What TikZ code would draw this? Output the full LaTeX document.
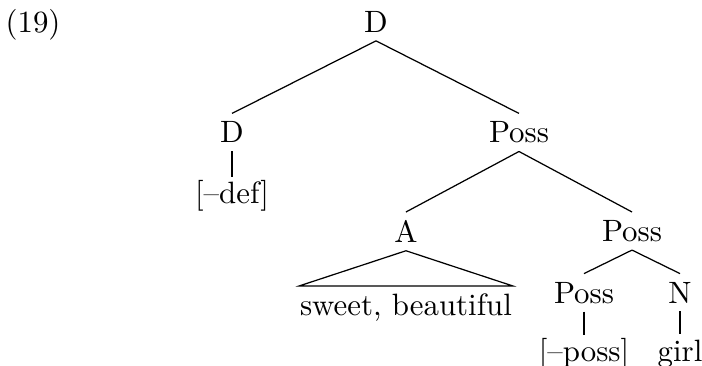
\documentclass[tikz,border=0pt]{standalone}
\usetikzlibrary{positioning}

\begin{document}
\begin{tikzpicture}[
    % --- tree styles ---
    cat/.style={inner sep=2.5pt, font=\normalsize},
    leaf/.style={inner xsep=2.5pt, inner ysep=1pt, text height=7.5pt,
                 text depth=2.5pt, font=\normalsize},
    phrase/.style={inner xsep=0pt, inner ysep=2.5pt, font=\normalsize},
    branch/.style={black, line width=0.4pt},
]

% ===== FRAME =====
\useasboundingbox (-4.282,0.2505) rectangle (3.712,-3.906);

% ===== ROOT =====
\node[cat] (top) at (0,0) {D};
\node[anchor=base, xshift=-3.906cm] (ex) at (top.base) {(19)};

% ===== FIRST LEVEL =====
\node[cat, below=0.826cm of top, xshift=-1.640cm] (dl) {D};
\node[cat, below=0.826cm of top, xshift=1.628cm] (possa) {Poss};
\node[leaf, below=0.296cm of dl] (def) {[--def]};

% ===== SECOND LEVEL =====
\node[cat, below=0.689cm of possa, xshift=-1.287cm] (adj) {A};
\node[cat, below=0.689cm of possa, xshift=1.287cm] (possb) {Poss};

% A dominates a roof
\node[phrase, below=0.40cm of adj] (sweet) {sweet, beautiful};

% ===== THIRD LEVEL =====
\node[cat, below=0.268cm of possb, xshift=-0.547cm] (possc) {Poss};
\node[cat, below=0.268cm of possb, xshift=0.547cm] (noun) {N};
\node[leaf, below=0.262cm of possc] (negposs) {[--poss]};
\node[leaf, below=0.262cm of noun] (girl) {girl};

% ===== BRANCHES =====
\foreach \a/\b in {top/dl, top/possa, dl/def, possa/adj, possa/possb,
                   possb/possc, possb/noun, possc/negposs, noun/girl}{
    \draw[branch] (\a.south) -- (\b.north);
}
\draw[branch] (adj.south) -- (sweet.north west) -- (sweet.north east) -- cycle;

\end{tikzpicture}
\end{document}
